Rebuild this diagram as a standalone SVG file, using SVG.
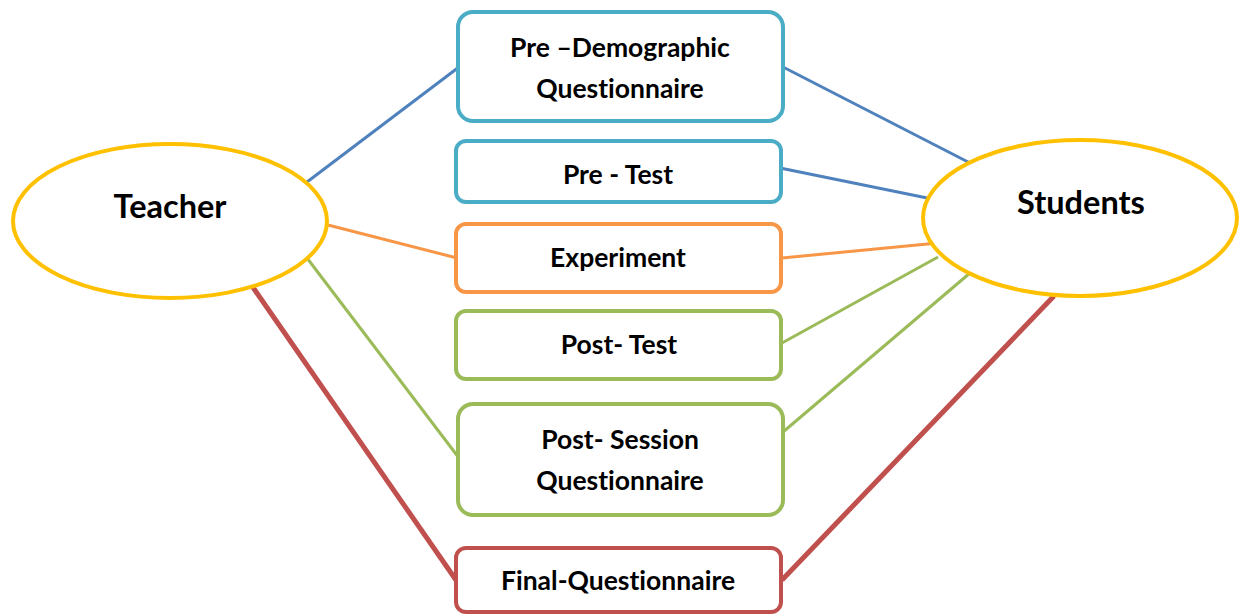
<svg xmlns="http://www.w3.org/2000/svg" width="1239" height="615" viewBox="0 0 1239 615">
<style>
.ell{fill:#fff;stroke:#FFC000;stroke-width:4}
.box{fill:#fff;stroke-width:4}
.t{font-family:Lato,"Open Sans","Liberation Sans",sans-serif;font-weight:bold;fill:#000;text-anchor:middle;font-variant-ligatures:none}
.s{font-size:26.5px}
.b{font-size:32.5px}
.blue{stroke:#4F81BD;stroke-width:3}
.orange{stroke:#F79646;stroke-width:3}
.green{stroke:#9BBB59;stroke-width:3}
.red{stroke:#C0504D;stroke-width:5}
</style>
<rect width="1239" height="615" fill="#fff"/>
<g id="connectors" fill="none">
<line class="blue" x1="307" y1="182" x2="459" y2="67"/>
<line class="blue" x1="783" y1="67" x2="970" y2="163"/>
<line class="blue" x1="780" y1="168" x2="937" y2="200"/>
<line class="orange" x1="328" y1="225" x2="457" y2="258"/>
<line class="orange" x1="782" y1="258" x2="938" y2="243"/>
<line class="green" x1="307" y1="258" x2="459" y2="458"/>
<line class="green" x1="782" y1="343" x2="938" y2="257"/>
<line class="green" x1="783" y1="432" x2="970" y2="273"/>
<line class="red" x1="252" y1="286" x2="456" y2="580"/>
<line class="red" x1="782" y1="580" x2="1054" y2="296"/>
</g>
<g id="teacher">
<ellipse class="ell" cx="170" cy="221" rx="157" ry="77"/>
<text class="t b" x="170" y="218">Teacher</text>
</g>
<g id="students">
<ellipse class="ell" cx="1080" cy="218" rx="157" ry="78"/>
<text class="t b" x="1081" y="214">Students</text>
</g>
<g id="pre-demographic">
<rect class="box" x="458" y="12" width="325" height="109" rx="15" stroke="#4BACC6"/>
<text class="t s" x="620" y="57">Pre –Demographic</text>
<text class="t s" x="620" y="98">Questionnaire</text>
</g>
<g id="pre-test">
<rect class="box" x="456" y="141" width="325" height="61" rx="10" stroke="#4BACC6"/>
<text class="t s" x="618" y="184">Pre - Test</text>
</g>
<g id="experiment">
<rect class="box" x="456" y="224" width="325" height="68" rx="10" stroke="#F79646"/>
<text class="t s" x="618" y="267">Experiment</text>
</g>
<g id="post-test">
<rect class="box" x="456" y="311" width="325" height="68" rx="10" stroke="#9BBB59"/>
<text class="t s" x="619" y="354">Post- Test</text>
</g>
<g id="post-session">
<rect class="box" x="458" y="404" width="325" height="111" rx="15" stroke="#9BBB59"/>
<text class="t s" x="620" y="449">Post- Session</text>
<text class="t s" x="620" y="490">Questionnaire</text>
</g>
<g id="final">
<rect class="box" x="456" y="548" width="325" height="64" rx="10" stroke="#C0504D"/>
<text class="t s" x="618" y="590">Final-Questionnaire</text>
</g>
</svg>
